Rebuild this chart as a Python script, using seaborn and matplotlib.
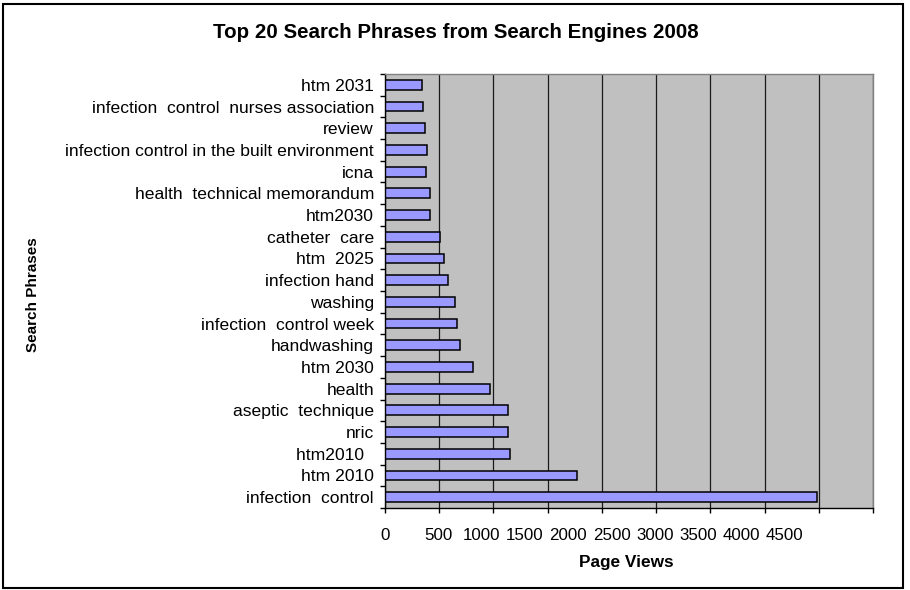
import matplotlib
matplotlib.use("Agg")
import matplotlib.pyplot as plt
from matplotlib.patches import Rectangle
from matplotlib.ticker import FixedLocator, FixedFormatter, NullFormatter
import numpy as np
import pandas as pd
import seaborn as sns

# Search phrases, listed from the top row of the chart to the bottom row
phrases = [
    "htm 2031",
    "infection  control  nurses association",
    "review",
    "infection control in the built environment",
    "icna",
    "health  technical memorandum",
    "htm2030",
    "catheter  care",
    "htm  2025",
    "infection hand",
    "washing",
    "infection  control week",
    "handwashing",
    "htm 2030",
    "health",
    "aseptic  technique",
    "nric",
    "htm2010  ",
    "htm 2010",
    "infection  control",
]
page_views = [338, 347, 372, 384, 381, 418, 418, 510, 547, 584,
              646, 667, 689, 809, 971, 1137, 1137, 1150, 1768, 3981]

x_ticks = [0, 500, 1000, 1500, 2000, 2500, 3000, 3500, 4000, 4500]
x_tick_labels = [str(t) for t in x_ticks]

title = "Top 20 Search Phrases from Search Engines 2008"
x_title = "Page Views"
y_title = "Search Phrases"

df = pd.DataFrame({"phrase": phrases, "views": page_views})

sns.set_style("white")
plt.rcParams["font.family"] = ["Liberation Sans", "DejaVu Sans"]

W, H = 910, 590
fig = plt.figure(figsize=(W / 100, H / 100), dpi=100)
fig.patch.set_facecolor("white")

# plot area in pixel terms
left, right, top, bottom = 385, 873, 74, 508
ax = fig.add_axes([left / W, 1 - bottom / H, (right - left) / W, (bottom - top) / H])
ax.set_facecolor("#C0C0C0")

sns.barplot(data=df, x="views", y="phrase", orient="h", color="#9999FF",
            saturation=1, width=0.45, edgecolor="black", linewidth=1.1, ax=ax)

n = len(phrases)
ax.set_xlim(0, x_ticks[-1])
ax.set_ylim(n - 0.5, -0.5)

# x axis: tick marks at every 500, labels set in a tighter run
ax.xaxis.remove_overlapping_locs = False
ax.xaxis.set_major_locator(FixedLocator(x_ticks))
ax.xaxis.set_major_formatter(NullFormatter())
label_x = [0] + [493 + 399 * (i - 1) for i in range(1, len(x_ticks))]
ax.xaxis.set_minor_locator(FixedLocator(label_x))
ax.xaxis.set_minor_formatter(FixedFormatter(x_tick_labels))
ax.tick_params(axis="x", which="major", direction="out", length=3.6, width=1,
               color="black", bottom=True)
ax.tick_params(axis="x", which="minor", length=0, pad=14.5, labelsize=12.2,
               labelcolor="black", bottom=True)

# y axis: tick marks between categories, labels centred on each bar
ax.yaxis.set_major_locator(FixedLocator(np.arange(n + 1) - 0.5))
ax.yaxis.set_major_formatter(NullFormatter())
ax.yaxis.set_minor_locator(FixedLocator(np.arange(n)))
ax.yaxis.set_minor_formatter(FixedFormatter(phrases))
ax.tick_params(axis="y", which="major", direction="out", length=3.6, width=1,
               color="black", left=True)
ax.tick_params(axis="y", which="minor", length=0, pad=8, labelsize=12.6,
               labelcolor="black", left=True)

ax.set_xlabel("")
ax.set_ylabel("")

ax.grid(axis="x", which="major", color="#1a1a1a", linewidth=0.9)
ax.grid(axis="y", visible=False)
ax.set_axisbelow(True)

for side in ("left", "bottom"):
    ax.spines[side].set_color("black")
    ax.spines[side].set_linewidth(1.0)
for side in ("top", "right"):
    ax.spines[side].set_color("#808080")
    ax.spines[side].set_linewidth(1.0)
    ax.spines[side].set_visible(True)

fig.text(456 / W, 1 - 33 / H, title, ha="center", va="center",
         fontsize=14.8, fontweight="bold", color="black")
fig.text(626 / W, 1 - 562 / H, x_title, ha="center", va="center",
         fontsize=12.4, fontweight="bold", color="black")
fig.text(33 / W, 1 - 295 / H, y_title, ha="center", va="center", rotation=90,
         fontsize=11, fontweight="bold", color="black")

# outer chart border
fig.patches.append(Rectangle((3 / W, 2 / H), 900 / W, 584 / H, fill=False,
                             edgecolor="black", linewidth=1.5,
                             transform=fig.transFigure, figure=fig))

fig.savefig("out.png", dpi=100, facecolor="white")
